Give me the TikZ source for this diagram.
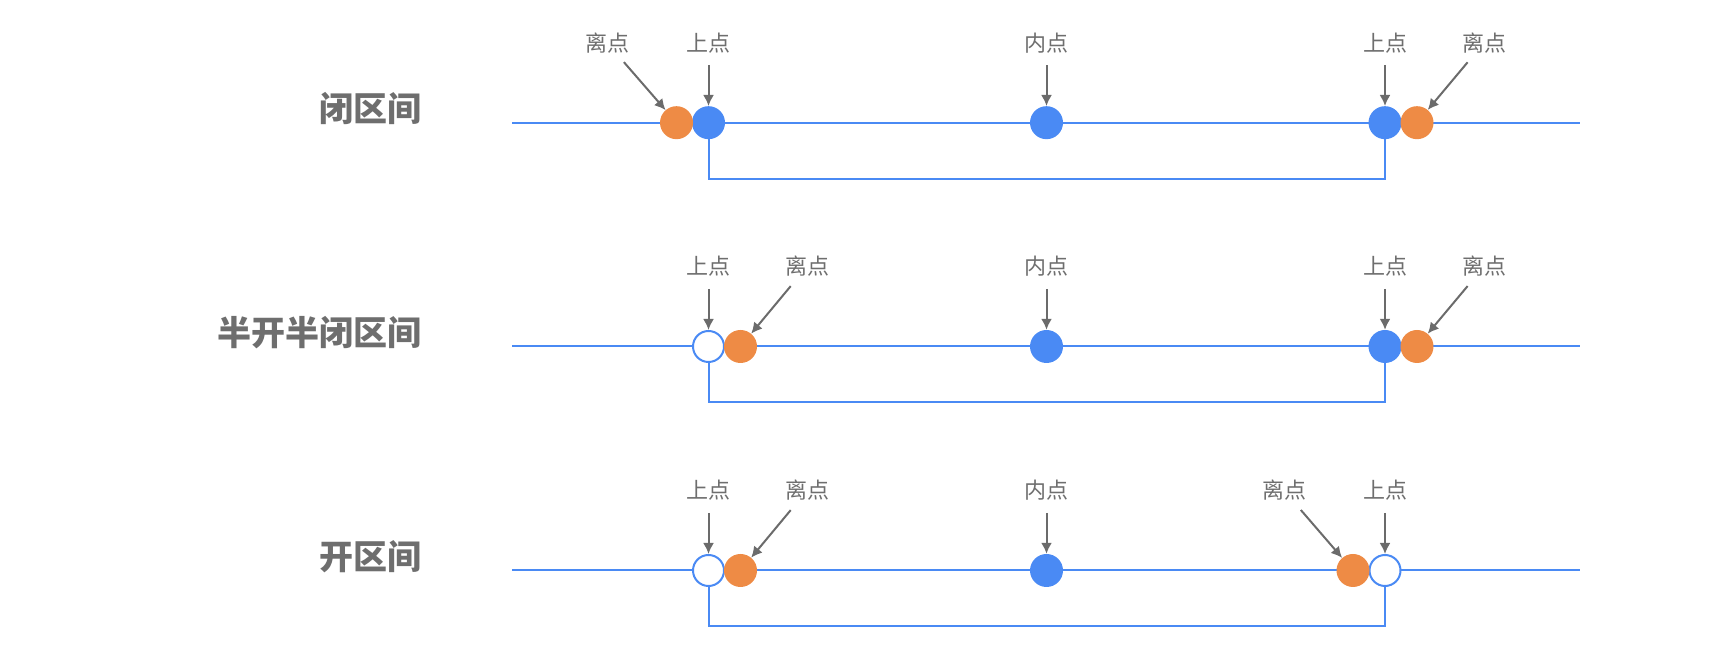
\documentclass[tikz,border=0pt]{standalone}
\usepackage{fontspec}
\setmainfont{Noto Sans CJK SC}
\usepackage{tikz}
\usetikzlibrary{shapes.geometric, arrows.meta, positioning}
\definecolor{ptblue}{HTML}{4A8AF4}
\definecolor{ptorange}{HTML}{EE8B45}
\definecolor{txtgray}{HTML}{6E6E6E}
\definecolor{arrowgray}{HTML}{6B6B6B}
\tikzstyle{rowtitle} =
[anchor=east, inner sep=0pt, text=txtgray,
font=\fontsize{34pt}{40pt}\selectfont\bfseries]
\tikzstyle{tag} =
[inner sep=0pt, text=txtgray, font=\fontsize{22pt}{26pt}\selectfont]
\tikzstyle{onpt} =
[circle, minimum size=33pt, inner sep=0pt, fill=ptblue]
\tikzstyle{inpt} =
[circle, minimum size=33pt, inner sep=0pt, fill=ptblue]
\tikzstyle{openpt} =
[circle, minimum size=31pt, inner sep=0pt, draw=ptblue, line width=2pt,
fill=white]
\tikzstyle{offpt} =
[circle, minimum size=33pt, inner sep=0pt, fill=ptorange]
\tikzstyle{axis} = [draw=ptblue, line width=2pt]
\tikzstyle{pointer} = [draw=arrowgray, line width=2pt, shorten <=12pt,
-{Latex[length=11pt, width=11pt]}]

\begin{document}
\begin{tikzpicture}[x=1pt, y=1pt, node distance=32pt]
  \useasboundingbox (0,0) rectangle (1712,652);
  % 1st row: closed interval
  \node [rowtitle] (t1) at (422,543.3) {闭区间};
  \coordinate (r1s) at (512,529.3);
  \coordinate (r1e) at (1580,529.3);
  \path [axis] (r1s) -- (r1e);
  \node [onpt] (r1on1) at (708.5,529.3) {};
  \node [offpt, left of=r1on1] (r1off1) {};
  \node [inpt] (r1in) at (1046.5,529.3) {};
  \node [onpt] (r1on2) at (1385,529.3) {};
  \node [offpt, right of=r1on2] (r1off2) {};
  \coordinate (r1br) at (1046.5,473.3);
  \path [axis] (r1on1) |- (r1br) -| (r1on2);
  % 1st row labels
  \node [tag] (r1loff1) at (607,609.3) {离点};
  \node [tag, above of=r1on1, node distance=80pt] (r1lon1) {上点};
  \node [tag, above of=r1in, node distance=80pt] (r1lin) {内点};
  \node [tag, above of=r1on2, node distance=80pt] (r1lon2) {上点};
  \node [tag] (r1loff2) at (1484,609.3) {离点};
  % 1st row arrows
  \path [pointer] (r1loff1) -- (r1off1);
  \path [pointer] (r1lon1) -- (r1on1);
  \path [pointer] (r1lin) -- (r1in);
  \path [pointer] (r1lon2) -- (r1on2);
  \path [pointer] (r1loff2) -- (r1off2);
  %
  % 2nd row: half open interval
  \node [rowtitle] (t2) at (422,319.5) {半开半闭区间};
  \coordinate (r2s) at (512,305.5);
  \coordinate (r2e) at (1580,305.5);
  \path [axis] (r2s) -- (r2e);
  \node [openpt] (r2on1) at (708.5,305.5) {};
  \node [offpt, right of=r2on1] (r2off1) {};
  \node [inpt] (r2in) at (1046.5,305.5) {};
  \node [onpt] (r2on2) at (1385,305.5) {};
  \node [offpt, right of=r2on2] (r2off2) {};
  \coordinate (r2br) at (1046.5,249.5);
  \path [axis] (r2on1) |- (r2br) -| (r2on2);
  % 2nd row labels
  \node [tag, above of=r2on1, node distance=80pt] (r2lon1) {上点};
  \node [tag] (r2loff1) at (807,385.5) {离点};
  \node [tag, above of=r2in, node distance=80pt] (r2lin) {内点};
  \node [tag, above of=r2on2, node distance=80pt] (r2lon2) {上点};
  \node [tag] (r2loff2) at (1484,385.5) {离点};
  % 2nd row arrows
  \path [pointer] (r2lon1) -- (r2on1);
  \path [pointer] (r2loff1) -- (r2off1);
  \path [pointer] (r2lin) -- (r2in);
  \path [pointer] (r2lon2) -- (r2on2);
  \path [pointer] (r2loff2) -- (r2off2);
  %
  % 3rd row: open interval
  \node [rowtitle] (t3) at (422,95.5) {开区间};
  \coordinate (r3s) at (512,81.5);
  \coordinate (r3e) at (1580,81.5);
  \path [axis] (r3s) -- (r3e);
  \node [openpt] (r3on1) at (708.5,81.5) {};
  \node [offpt, right of=r3on1] (r3off1) {};
  \node [inpt] (r3in) at (1046.5,81.5) {};
  \node [openpt] (r3on2) at (1385,81.5) {};
  \node [offpt, left of=r3on2] (r3off2) {};
  \coordinate (r3br) at (1046.5,25.5);
  \path [axis] (r3on1) |- (r3br) -| (r3on2);
  % 3rd row labels
  \node [tag, above of=r3on1, node distance=80pt] (r3lon1) {上点};
  \node [tag] (r3loff1) at (807,161.5) {离点};
  \node [tag, above of=r3in, node distance=80pt] (r3lin) {内点};
  \node [tag] (r3loff2) at (1284,161.5) {离点};
  \node [tag, above of=r3on2, node distance=80pt] (r3lon2) {上点};
  % 3rd row arrows
  \path [pointer] (r3lon1) -- (r3on1);
  \path [pointer] (r3loff1) -- (r3off1);
  \path [pointer] (r3lin) -- (r3in);
  \path [pointer] (r3loff2) -- (r3off2);
  \path [pointer] (r3lon2) -- (r3on2);
\end{tikzpicture}
\end{document}
